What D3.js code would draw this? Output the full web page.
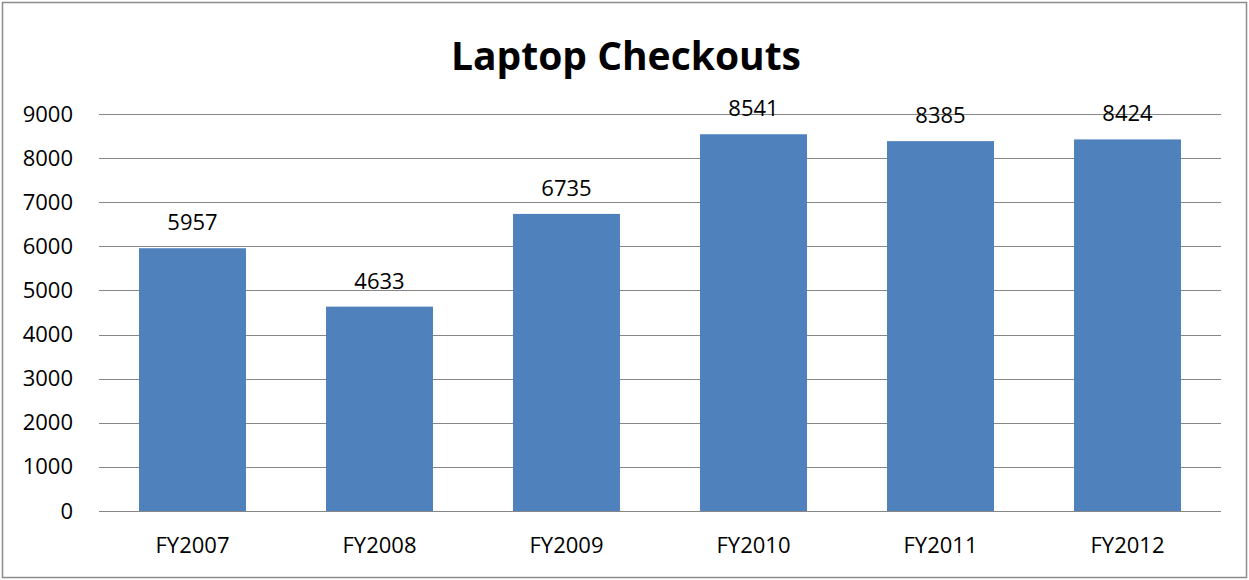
<!DOCTYPE html>
<html><head><meta charset="utf-8">
<script src="https://cdn.jsdelivr.net/npm/d3@7"></script>
<style>body{margin:0;background:#fff}svg{display:block}text{font-family:"Open Sans","Liberation Sans",sans-serif;fill:#000}</style>
</head><body>
<svg id="c" width="1249" height="580"></svg>
<script>
const categories = ["FY2007","FY2008","FY2009","FY2010","FY2011","FY2012"];
const values = [5957,4633,6735,8541,8385,8424];
const yTicks = [0,1000,2000,3000,4000,5000,6000,7000,8000,9000];
const title = "Laptop Checkouts";

const svg = d3.select("#c");
const W = 1249, H = 580;
const m = {left: 99, right: 28, top: 114, bottom: 69};
const FS = 22;
svg.append("rect").attr("x",2.5).attr("y",2.5).attr("width",W-5).attr("height",H-5)
  .attr("fill","#fff").attr("stroke","#8c8c8c").attr("stroke-width",1.5);

const x = d3.scaleBand().domain(categories).range([m.left, W-m.right]).paddingInner(0.428).paddingOuter(0.214);
const y = d3.scaleLinear().domain([0,9000]).range([H-m.bottom, m.top]);

const g = svg.append("g");
g.selectAll("line.grid").data(yTicks).join("line").attr("class","grid")
  .attr("x1",m.left).attr("x2",W-m.right)
  .attr("y1",d=>Math.round(y(d))+0.5).attr("y2",d=>Math.round(y(d))+0.5)
  .attr("stroke","#868686").attr("stroke-width",1.2);

const yAxis = d3.axisLeft(y).tickValues(yTicks).tickSize(0).tickPadding(26).tickFormat(d3.format("d"));
const ya = svg.append("g").attr("transform",`translate(${m.left},0)`).call(yAxis);
ya.select(".domain").remove();
ya.selectAll("text").attr("font-size",FS).attr("fill","#000").style("font-family",'"Open Sans","Liberation Sans",sans-serif');

svg.selectAll("rect.bar").data(values).join("rect").attr("class","bar")
  .attr("x",(d,i)=>x(categories[i])).attr("width",x.bandwidth())
  .attr("y",d=>y(d)).attr("height",d=>y(0)-y(d)).attr("fill","#4F81BD");

svg.selectAll("text.val").data(values).join("text").attr("class","val")
  .attr("x",(d,i)=>x(categories[i])+x.bandwidth()/2).attr("y",d=>y(d)-27)
  .attr("text-anchor","middle").attr("dominant-baseline","central")
  .attr("font-size",FS).text(d=>d);

const xAxis = d3.axisBottom(x).tickSize(0).tickPadding(26);
const xa = svg.append("g").attr("transform",`translate(0,${y(0)})`).call(xAxis);
xa.select(".domain").remove();
xa.selectAll("text").attr("font-size",FS).attr("fill","#000").style("font-family",'"Open Sans","Liberation Sans",sans-serif');

svg.append("text").attr("x",626).attr("y",54).attr("text-anchor","middle").attr("dominant-baseline","central")
  .attr("font-size",39).attr("font-weight","bold").text(title);
</script>
</body></html>
